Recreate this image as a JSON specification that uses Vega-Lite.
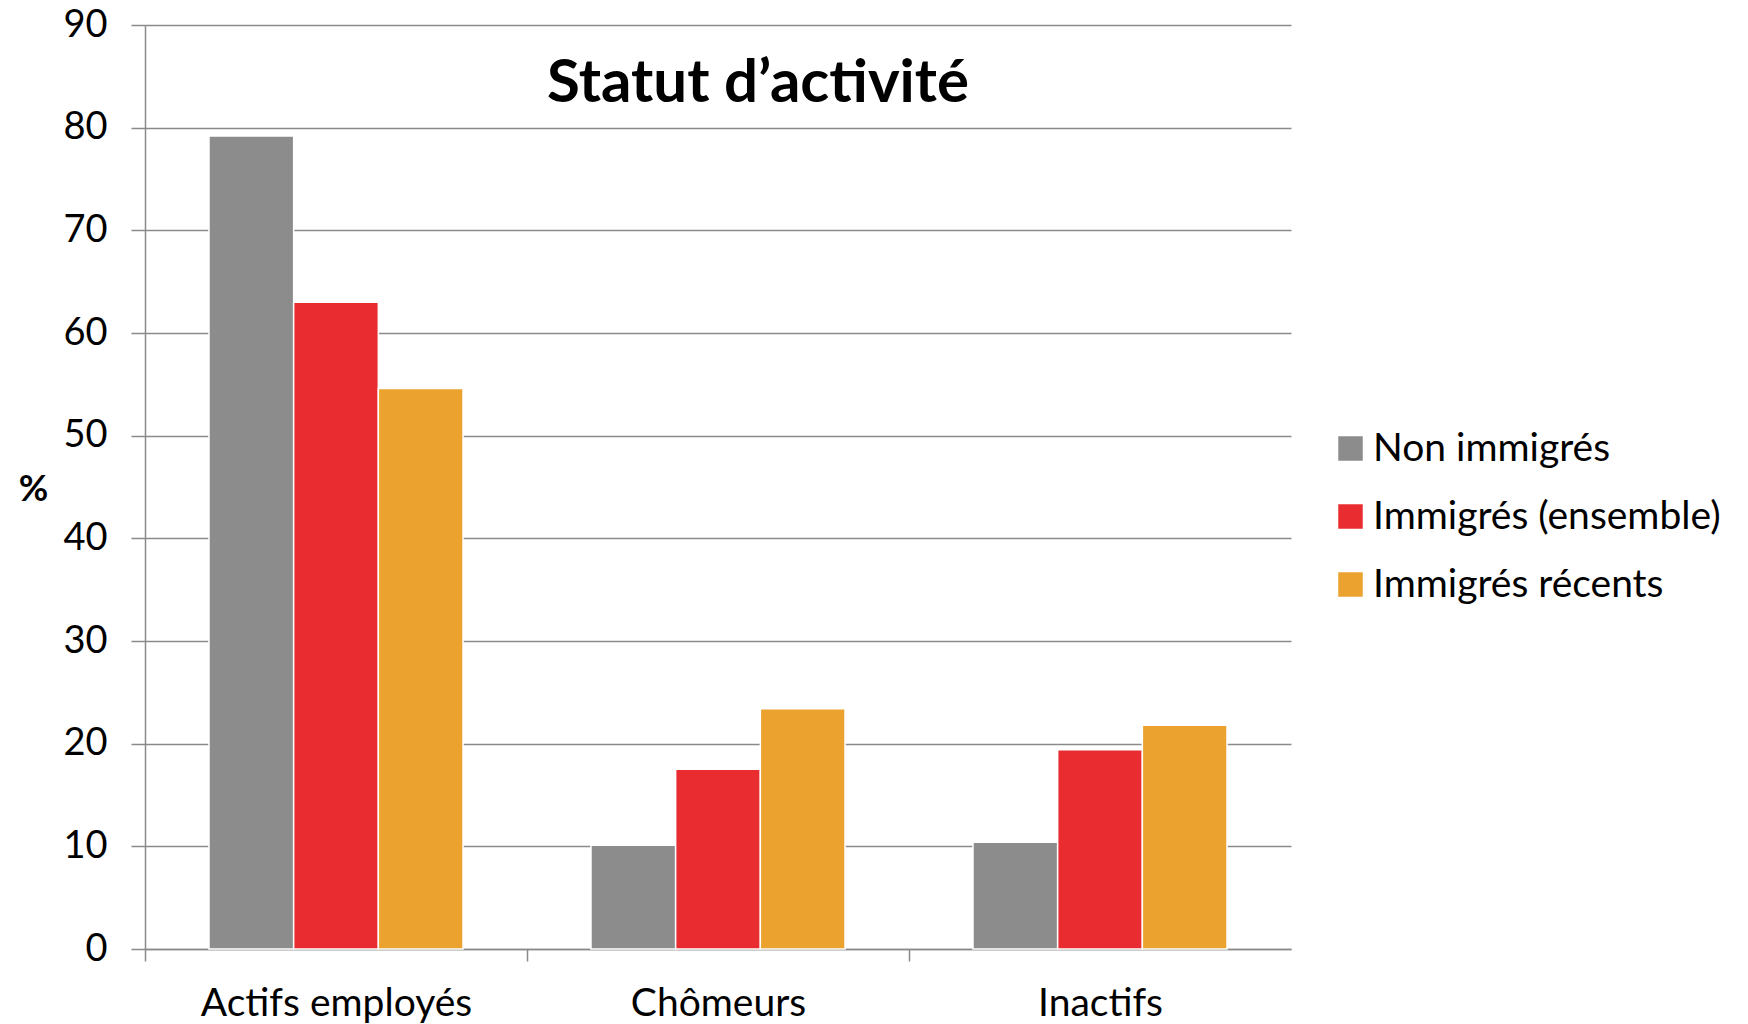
{
  "$schema": "https://vega.github.io/schema/vega-lite/v6.json",
  "autosize": {"type": "none"},
  "width": 1146,
  "height": 924,
  "padding": {"left": 145, "top": 25, "right": 457, "bottom": 75},
  "background": "white",
  "config": {"view": {"stroke": null}, "font": "Lato"},
  "title": {
    "text": "Statut d’activité",
    "fontSize": 60,
    "fontWeight": "bold",
    "font": "Lato",
    "color": "black",
    "anchor": "middle",
    "baseline": "alphabetic",
    "offset": -156,
    "dx": 40
  },
  "data": {
    "values": [
      {"categorie": "Actifs employés", "groupe": "Non immigrés", "valeur": 79.2},
      {"categorie": "Actifs employés", "groupe": "Immigrés (ensemble)", "valeur": 63.0},
      {"categorie": "Actifs employés", "groupe": "Immigrés récents", "valeur": 54.6},
      {"categorie": "Chômeurs", "groupe": "Non immigrés", "valeur": 10.1},
      {"categorie": "Chômeurs", "groupe": "Immigrés (ensemble)", "valeur": 17.5},
      {"categorie": "Chômeurs", "groupe": "Immigrés récents", "valeur": 23.4},
      {"categorie": "Inactifs", "groupe": "Non immigrés", "valeur": 10.4},
      {"categorie": "Inactifs", "groupe": "Immigrés (ensemble)", "valeur": 19.4},
      {"categorie": "Inactifs", "groupe": "Immigrés récents", "valeur": 21.8}
    ]
  },
  "mark": {"type": "bar", "stroke": "white", "strokeWidth": 1.5},
  "encoding": {
    "x": {
      "field": "categorie",
      "type": "nominal",
      "sort": ["Actifs employés", "Chômeurs", "Inactifs"],
      "scale": {"paddingInner": 0.335, "paddingOuter": 0.1675},
      "axis": {
        "title": null,
        "labelAngle": 0,
        "labelFontSize": 39,
        "labelFont": "Lato",
        "labelColor": "black",
        "labelPadding": 23,
        "labelLimit": 500,
        "tickOffset": -191,
        "labelOffset": 191,
        "tickSize": 12,
        "tickColor": "#8a8a8a",
        "tickWidth": 1.5,
        "domainColor": "#8a8a8a",
        "domainWidth": 1.5,
        "grid": false
      }
    },
    "xOffset": {
      "field": "groupe",
      "type": "nominal",
      "sort": ["Non immigrés", "Immigrés (ensemble)", "Immigrés récents"],
      "scale": {"paddingInner": 0, "paddingOuter": 0}
    },
    "y": {
      "field": "valeur",
      "type": "quantitative",
      "scale": {"domain": [0, 90], "nice": false},
      "axis": {
        "title": "%",
        "titleAngle": 0,
        "titleFontSize": 36,
        "titleFontWeight": "bold",
        "titleFont": "Lato",
        "titleColor": "black",
        "titleX": -112,
        "titleY": 464,
        "titleAlign": "center",
        "titleBaseline": "middle",
        "values": [0, 10, 20, 30, 40, 50, 60, 70, 80, 90],
        "labelFontSize": 38,
        "labelFont": "Lato",
        "labelColor": "black",
        "labelPadding": 24,
        "tickSize": 14,
        "tickColor": "#8a8a8a",
        "tickWidth": 1.5,
        "domainColor": "#8a8a8a",
        "domainWidth": 1.5,
        "grid": true,
        "gridColor": "#8a8a8a",
        "gridWidth": 1.5
      }
    },
    "color": {
      "field": "groupe",
      "type": "nominal",
      "sort": ["Non immigrés", "Immigrés (ensemble)", "Immigrés récents"],
      "scale": {
        "domain": ["Non immigrés", "Immigrés (ensemble)", "Immigrés récents"],
        "range": ["#8c8c8c", "#e92c30", "#eba22f"]
      },
      "legend": {
        "title": null,
        "orient": "none",
        "legendX": 1186,
        "legendY": 404,
        "symbolType": "square",
        "symbolSize": 600,
        "symbolStrokeWidth": 0,
        "labelFontSize": 39,
        "labelFont": "Lato",
        "labelColor": "black",
        "labelOffset": 3,
        "rowPadding": 28,
        "labelLimit": 500
      }
    }
  }
}
